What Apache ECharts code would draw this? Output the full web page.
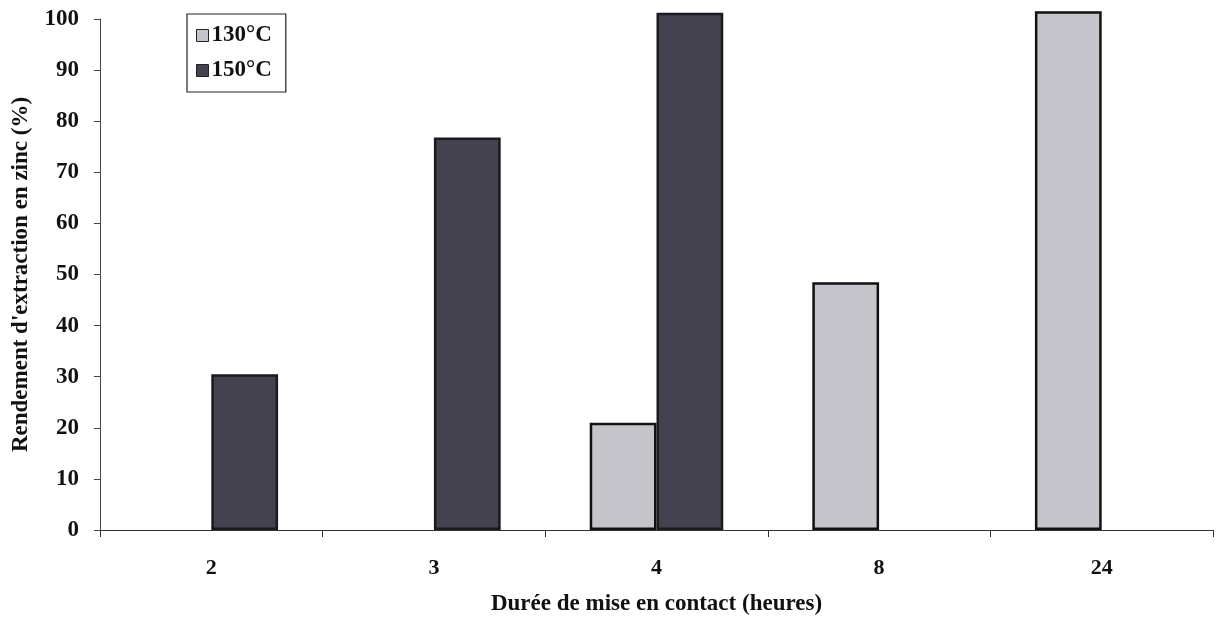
<!DOCTYPE html>
<html>
<head>
<meta charset="utf-8">
<script src="https://cdn.jsdelivr.net/npm/echarts@6/dist/echarts.min.js"></script>
<style>
  html, body { margin: 0; padding: 0; background: #fff; }
  #chart { width: 1218px; height: 618px; }
</style>
</head>
<body>
<div id="chart"></div>
<script>
// Contact time (hours) and zinc extraction yield (%) at two temperatures
const categories = ['2', '3', '4', '8', '24'];
const yield130 = [null, null, 21, 48.5, 101.5];
const yield150 = [30.5, 76.8, 101.2, null, null];
const seriesNames = ['130°C', '150°C'];
const yTicks = [0, 10, 20, 30, 40, 50, 60, 70, 80, 90, 100];

const FONT = '"Liberation Serif", "Times New Roman", serif';
const chart = echarts.init(document.getElementById('chart'), null, { renderer: 'canvas' });

chart.setOption({
  animation: false,
  backgroundColor: '#ffffff',
  textStyle: { fontFamily: FONT, fontWeight: 'bold', color: '#111' },
  grid: { left: 100, right: 5, top: 19, bottom: 88, containLabel: false, outerBoundsMode: 'none' },
  legend: {
    orient: 'vertical',
    left: 187,
    top: 14,
    padding: [10, 14, 10, 9],
    itemGap: 12,
    itemWidth: 12,
    itemHeight: 12,
    icon: 'rect',
    borderColor: '#222',
    borderWidth: 1.2,
    backgroundColor: '#fff',
    data: seriesNames,
    itemStyle: { borderColor: '#222', borderWidth: 1 },
    textStyle: { fontFamily: FONT, fontWeight: 'bold', fontSize: 23, color: '#111', padding: [0, 0, 0, -2] }
  },
  xAxis: {
    type: 'category',
    data: categories,
    boundaryGap: true,
    name: 'Durée de mise en contact (heures)',
    nameLocation: 'middle',
    nameGap: 63,
    nameTextStyle: { fontFamily: FONT, fontWeight: 'bold', fontSize: 23, color: '#111' },
    axisLine: { lineStyle: { color: '#333', width: 1.2 } },
    axisTick: { show: true, length: 7, inside: false, lineStyle: { color: '#333' } },
    axisLabel: { fontFamily: FONT, fontWeight: 'bold', fontSize: 22, color: '#111', margin: 27 },
    splitLine: { show: false }
  },
  yAxis: {
    type: 'value',
    min: 0,
    max: 100,
    interval: 10,
    name: "Rendement d'extraction en zinc (%)",
    nameLocation: 'middle',
    nameGap: 67,
    nameRotate: 90,
    nameTextStyle: { fontFamily: FONT, fontWeight: 'bold', fontSize: 23, color: '#111' },
    axisLine: { show: true, lineStyle: { color: '#444', width: 1 } },
    axisTick: { show: true, length: 6, lineStyle: { color: '#444' } },
    axisLabel: {
      fontFamily: FONT, fontWeight: 'bold', fontSize: 23, color: '#111', margin: 21,
      formatter: v => (yTicks.includes(v) ? String(v) : '')
    },
    splitLine: { show: false }
  },
  series: [
    {
      name: seriesNames[0],
      type: 'bar',
      data: yield130,
      clip: false,
      barGap: '0%',
      barCategoryGap: '40%',
      itemStyle: { color: '#c4c4ca', borderColor: '#111', borderWidth: 2.5 }
    },
    {
      name: seriesNames[1],
      type: 'bar',
      data: yield150,
      clip: false,
      barGap: '0%',
      barCategoryGap: '40%',
      itemStyle: { color: '#43424e', borderColor: '#1a1a1f', borderWidth: 2.5 }
    }
  ]
});
</script>
</body>
</html>
